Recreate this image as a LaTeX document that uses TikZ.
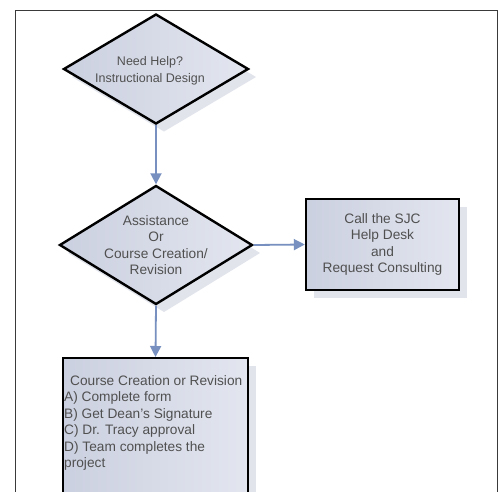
\documentclass[tikz,border=0pt]{standalone}
\usepackage{fontspec}
\setmainfont{Liberation Sans}
\usetikzlibrary{shapes.geometric,arrows.meta,shadows}
\definecolor{fillA}{HTML}{CBD0E0}
\definecolor{fillB}{HTML}{E3E6EF}
\definecolor{shad}{HTML}{E2E4EC}
\definecolor{arr}{HTML}{7790BF}
\definecolor{txt}{HTML}{505050}
\definecolor{frame}{HTML}{3A3A3A}
\tikzset{
  shapebase/.style={draw=black, line width=2.4pt, left color=fillA, right color=fillB,
    drop shadow={shadow xshift=8pt, shadow yshift=-8pt, fill=shad, opacity=1}, inner sep=0pt},
  decision/.style={shapebase, diamond},
  process/.style={shapebase, rectangle},
  lbl/.style={font=\fontsize{13.7}{16.5}\selectfont, text=txt, align=center, inner sep=0pt},
  flow/.style={draw=arr, line width=1.8pt, -{Triangle[width=11pt,length=11pt]}}
}
\begin{document}
\begin{tikzpicture}[x=1pt,y=-1pt]
\useasboundingbox (0,0) rectangle (501,491);
\clip (0,0) rectangle (501,491);
\fill[white] (0,0) rectangle (501,491);
\draw[frame, line width=1pt] (15,495) -- (15,10) -- (497,10) -- (497,495);

\node[decision, minimum width=185pt, minimum height=110pt] (d1) at (156,69) {};
\node[lbl, font=\fontsize{12.5}{17.5}\selectfont] (t1) at ([xshift=-6pt,yshift=-2pt]d1.center) {Need Help?\\Instructional Design};

\node[decision, minimum width=193pt, minimum height=119pt] (d2) at (156,245) {};
\node[lbl] (t2) at (d2.center) {Assistance\\Or\\Course Creation/\\Revision};

\node[process, minimum width=153pt, minimum height=91pt] (b2) at (382.5,244.5) {};
\node[lbl] (t3) at (b2.center) {Call the SJC\\Help Desk\\and\\Request Consulting};

\node[process, minimum width=185pt, minimum height=150pt, anchor=north] (b3) at (155.5,357) {};
\node[lbl, align=left, anchor=north west] (t4) at (64,375)
  {\hspace{6pt}Course Creation or Revision\\A) Complete form\\B) Get Dean's Signature\\C) Dr. Tracy approval\\D) Team completes the\\project};

\draw[flow] (d1.south) -- (d2.north);
\draw[flow] (d2.east) -- (b2.west);
\draw[flow] (d2.south) -- (b3.north);
\end{tikzpicture}
\end{document}
